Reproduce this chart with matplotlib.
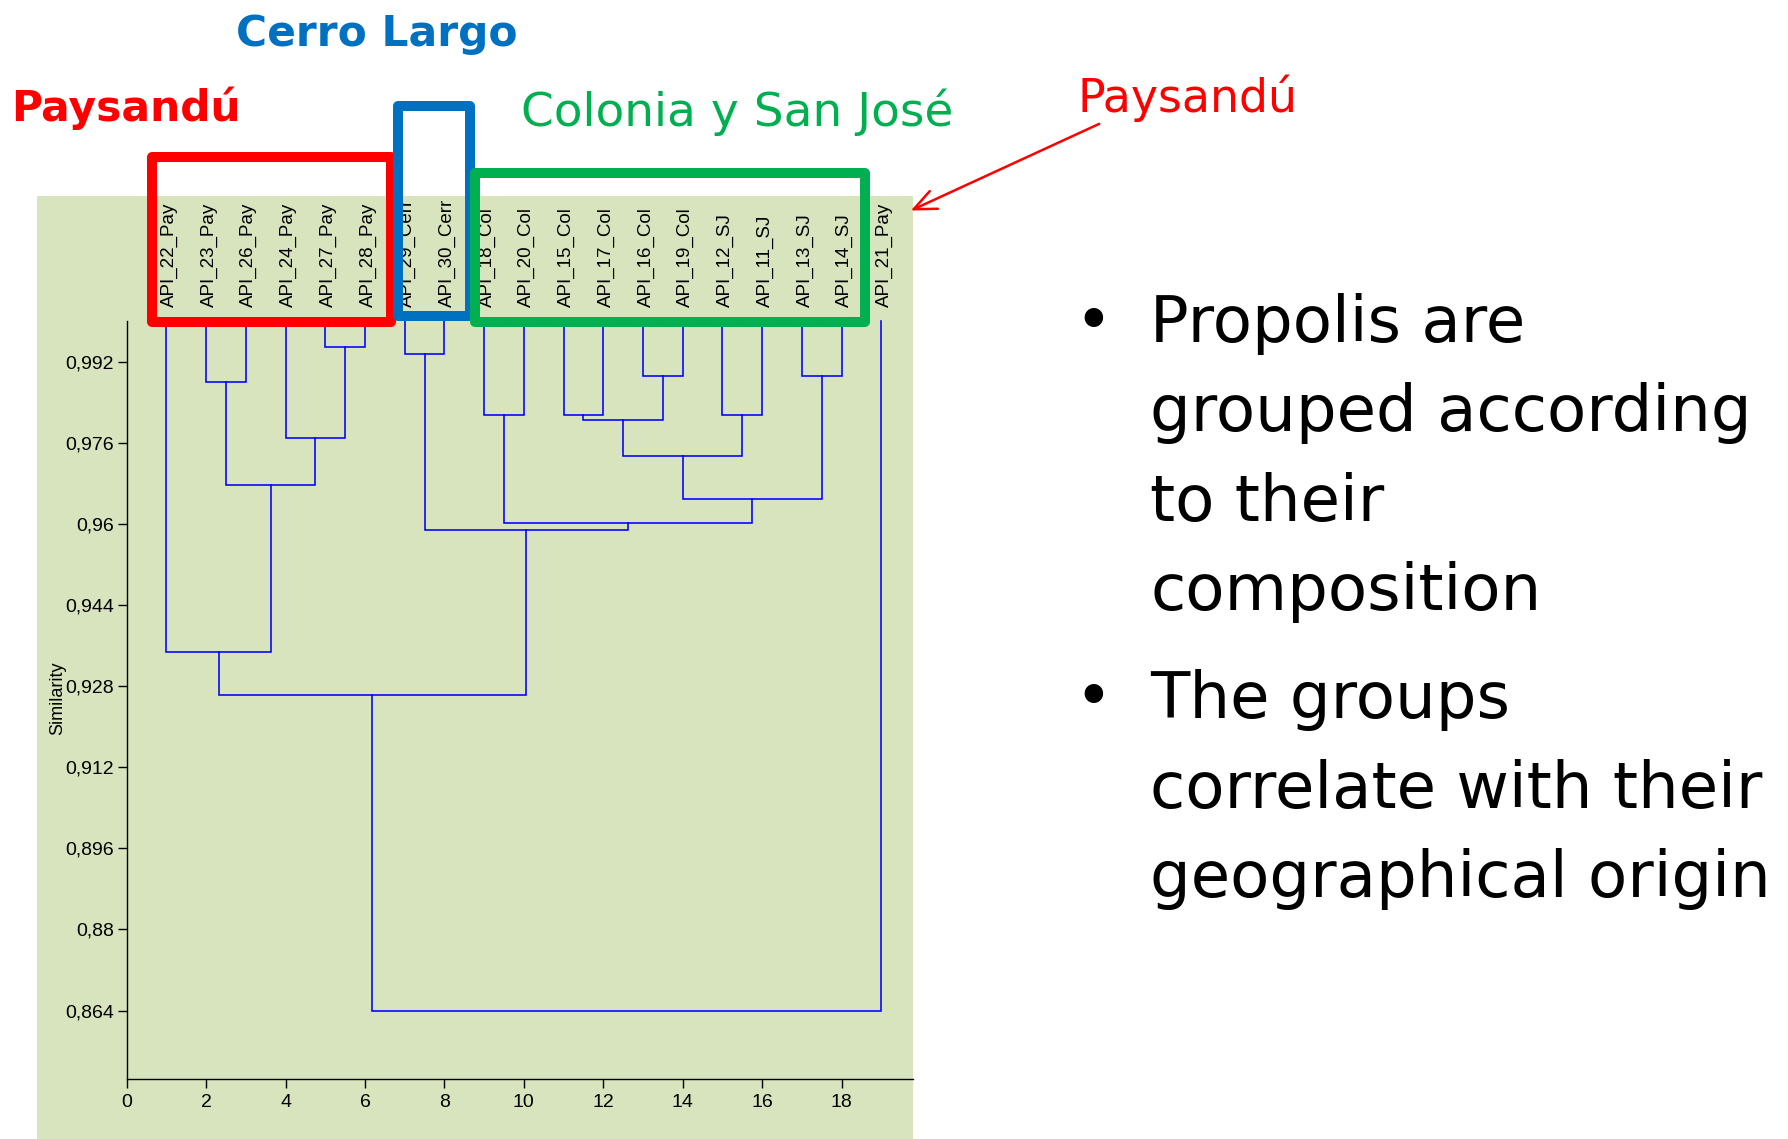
import matplotlib
matplotlib.use("Agg")
import matplotlib.pyplot as plt
from matplotlib.patches import Rectangle, FancyArrowPatch
from matplotlib.transforms import offset_copy

# ------------------------------------------
# Data: dendrogram of propolis samples
# ------------------------------------------
leaf_labels = ["API_22_Pay", "API_23_Pay", "API_26_Pay", "API_24_Pay", "API_27_Pay",
               "API_28_Pay", "API_29_Cerr", "API_30_Cerr", "API_18_Col", "API_20_Col",
               "API_15_Col", "API_17_Col", "API_16_Col", "API_19_Col", "API_12_SJ",
               "API_11_SJ", "API_13_SJ", "API_14_SJ", "API_21_Pay"]

# merges: node ids 0..18 are leaves, 19+ are the clusters in this order
merge_left = [4, 6, 12, 16, 1, 8, 10, 14, 25, 3, 27, 23, 29, 24, 20, 0, 34, 35]
merge_right = [5, 7, 13, 17, 2, 9, 11, 15, 21, 19, 26, 28, 22, 31, 32, 30, 33, 18]
merge_sim = [0.9949, 0.9935, 0.9892, 0.9892, 0.9879, 0.9815, 0.9815, 0.9815, 0.9804,
             0.9769, 0.9734, 0.9676, 0.9648, 0.9602, 0.9588, 0.9347, 0.9262, 0.864]

y_ticks = [0.864, 0.88, 0.896, 0.912, 0.928, 0.944, 0.96, 0.976, 0.992]
y_tick_labels = ["0,864", "0,88", "0,896", "0,912", "0,928", "0,944", "0,96", "0,976", "0,992"]
x_ticks = [0, 2, 4, 6, 8, 10, 12, 14, 16, 18]

bullet_1 = ["Propolis are", "grouped according", "to their", "composition"]
bullet_2 = ["The groups", "correlate with their", "geographical origin"]

# ------------------------------------------
# Figure setup (pixel helpers)
# ------------------------------------------
W, H = 1788, 1139
fig = plt.figure(figsize=(W / 100, H / 100), dpi=100)
fig.patch.set_facecolor("white")


def fx(x):
    return x / W


def fy(y):
    return 1 - y / H


chart_font = "Liberation Sans"
slide_font = "DejaVu Sans"

# green panel behind the dendrogram
bg = Rectangle((fx(37), 0), fx(912.7) - fx(37), fy(196), transform=fig.transFigure,
               facecolor="#d8e4bd", edgecolor="none", zorder=-1)
fig.add_artist(bg)

ax = fig.add_axes([fx(126.7), fy(1079), fx(912.7) - fx(126.7), (1079 - 321) / H])
ax.patch.set_visible(False)
ax.set_xlim(0, 19.79)
ax.set_ylim(0.8505, 1.0)

# ------------------------------------------
# Dendrogram
# ------------------------------------------
node_x = [i + 1 for i in range(len(leaf_labels))]
node_y = [1.0] * len(leaf_labels)

for a, b, h in zip(merge_left, merge_right, merge_sim):
    xa, ya = node_x[a], node_y[a]
    xb, yb = node_x[b], node_y[b]
    ax.plot([xa, xa, xb, xb], [ya, h, h, yb], color="#0000ff", lw=1.15,
            solid_joinstyle="miter", clip_on=False)
    node_x.append((xa + xb) / 2)
    node_y.append(h)

lab_trans = offset_copy(ax.get_xaxis_transform(), fig=fig, x=3, y=14, units="dots")
for i, lab in enumerate(leaf_labels):
    t = ax.text(i + 1, 1.0, lab, transform=lab_trans, rotation=90, ha="center",
                va="bottom", fontsize=13.5, family=chart_font, color="black")
    t.set_clip_path(bg)
    t.set_clip_on(True)

for side in ["top", "right"]:
    ax.spines[side].set_visible(False)
for side in ["left", "bottom"]:
    ax.spines[side].set_linewidth(1.0)

ax.set_yticks(y_ticks)
ax.set_yticklabels(y_tick_labels, family=chart_font, fontsize=14)
ax.set_xticks(x_ticks)
ax.set_xticklabels([str(v) for v in x_ticks], family=chart_font, fontsize=14)
ax.tick_params(axis="y", length=6.3, width=1.0, pad=3)
ax.tick_params(axis="x", length=6.5, width=1.0, pad=4)

fig.text(fx(58), fy(698), "Similarity", rotation=90, ha="center", va="center",
         fontsize=13, family=chart_font)

# ------------------------------------------
# Group boxes and titles
# ------------------------------------------
boxes = [
    (151.7, 391.0, 157.5, 321.7, "#ff0000"),
    (397.5, 469.5, 106.3, 316.3, "#0070c0"),
    (474.7, 864.5, 172.8, 321.7, "#00b050"),
]
for left, right, top, bottom, col in boxes:
    r = Rectangle((fx(left), fy(bottom)), fx(right) - fx(left), fy(top) - fy(bottom),
                  transform=fig.transFigure, fill=False, edgecolor=col, lw=7.2,
                  joinstyle="round", zorder=5)
    fig.add_artist(r)

fig.text(fx(236), fy(46), "Cerro Largo", color="#0070c0", fontsize=30.5,
         fontweight="bold", family=slide_font, ha="left", va="baseline")
fig.text(fx(11), fy(120.7), "Paysandú", color="#ff0000", fontsize=30.5,
         fontweight="bold", family=slide_font, ha="left", va="baseline")
fig.text(fx(521), fy(125.5), "Colonia y San José", color="#00b050", fontsize=33.8,
         family=slide_font, ha="left", va="baseline")
fig.text(fx(1077), fy(111.7), "Paysandú", color="#ff0000", fontsize=33,
         family=slide_font, ha="left", va="baseline")

arrow = FancyArrowPatch((fx(1101.7), fy(122.7)), (fx(908.3), fy(211.7)),
                        transform=fig.transFigure, arrowstyle="->,head_length=0.8,head_width=0.35",
                        mutation_scale=20, color="#ff0000", lw=1.8, zorder=6)
fig.add_artist(arrow)

# ------------------------------------------
# Bullet text
# ------------------------------------------
for block, first_base in [(bullet_1, 341.7), (bullet_2, 718.3)]:
    fig.text(fx(1093), fy(first_base), "•", fontsize=46, family=slide_font,
             ha="center", va="baseline")
    for k, line in enumerate(block):
        fig.text(fx(1150), fy(first_base + k * 89.5), line, fontsize=46.3,
                 family=slide_font, ha="left", va="baseline")

plt.savefig("out.png", dpi=100)
plt.close()
